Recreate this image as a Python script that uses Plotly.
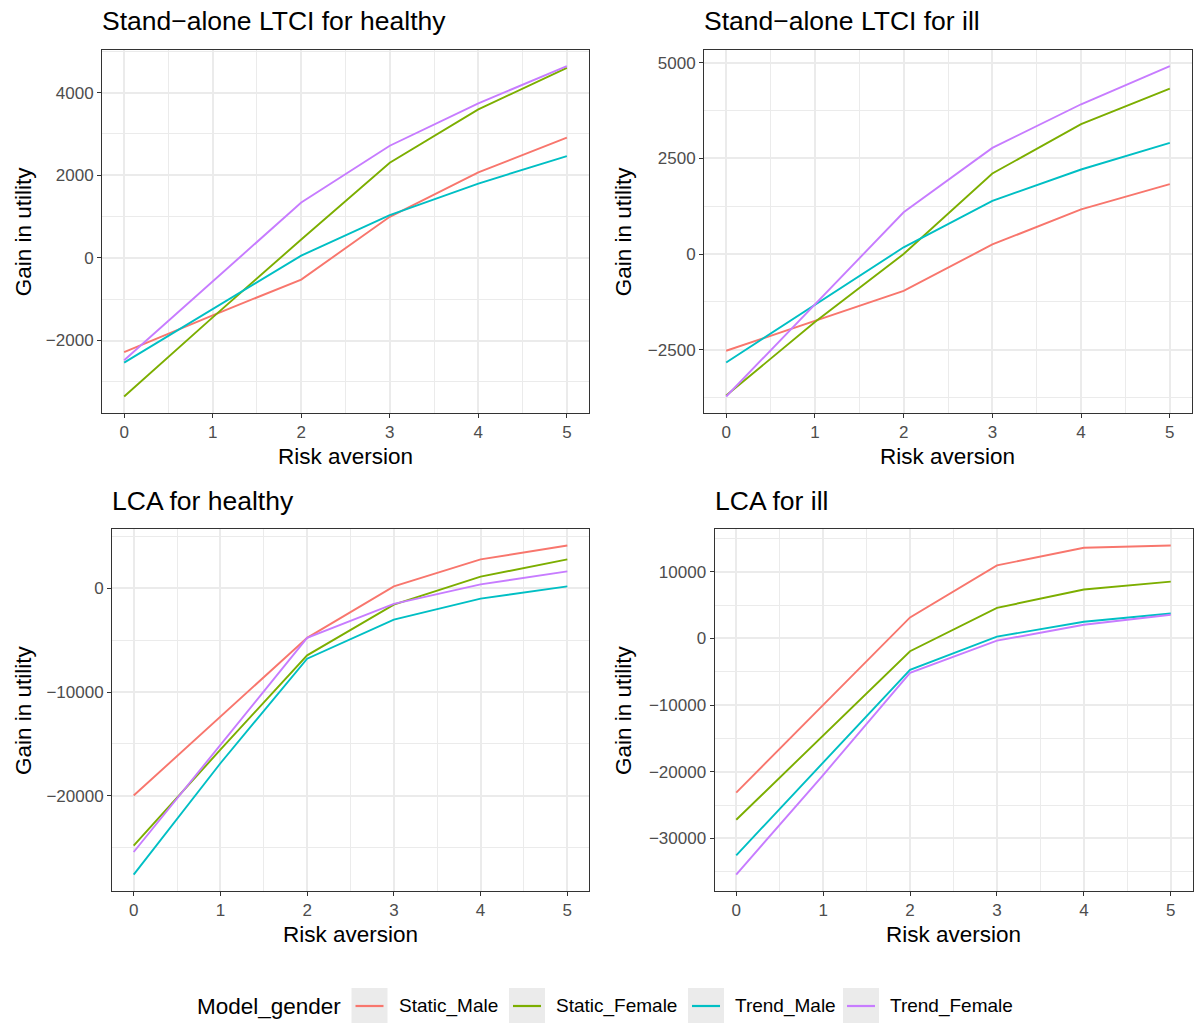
import plotly.graph_objects as go

risk_aversion = [0, 1, 2, 3, 4, 5]
series_names = ["Static_Male", "Static_Female", "Trend_Male", "Trend_Female"]
series_colors = ["#F8766D", "#7CAE00", "#00BFC4", "#C77CFF"]

panel_titles = ["Stand\u2212alone LTCI for healthy", "Stand\u2212alone LTCI for ill",
                "LCA for healthy", "LCA for ill"]

sa_healthy_static_male = [-2280, -1390, -525, 995, 2070, 2910]
sa_healthy_static_female = [-3355, -1440, 445, 2305, 3595, 4600]
sa_healthy_trend_male = [-2535, -1235, 55, 1035, 1800, 2465]
sa_healthy_trend_female = [-2480, -580, 1340, 2715, 3740, 4645]

sa_ill_static_male = [-2530, -1740, -965, 250, 1165, 1825]
sa_ill_static_female = [-3700, -1780, 0, 2105, 3395, 4325]
sa_ill_trend_male = [-2835, -1330, 175, 1390, 2210, 2905]
sa_ill_trend_female = [-3725, -1330, 1090, 2775, 3915, 4915]

lca_healthy_static_male = [-19970, -12350, -4770, 190, 2785, 4130]
lca_healthy_static_female = [-24800, -15550, -6460, -1570, 1120, 2785]
lca_healthy_trend_male = [-27585, -16860, -6780, -3010, -990, 190]
lca_healthy_trend_female = [-25410, -15100, -4770, -1500, 385, 1630]

lca_ill_static_male = [-23130, -10050, 3135, 10945, 13580, 13930]
lca_ill_static_female = [-27215, -14530, -1940, 4575, 7315, 8505]
lca_ill_trend_male = [-32535, -18660, -4725, 250, 2490, 3730]
lca_ill_trend_female = [-35425, -20500, -5175, -350, 2040, 3530]

panels = [
    [sa_healthy_static_male, sa_healthy_static_female, sa_healthy_trend_male, sa_healthy_trend_female],
    [sa_ill_static_male, sa_ill_static_female, sa_ill_trend_male, sa_ill_trend_female],
    [lca_healthy_static_male, lca_healthy_static_female, lca_healthy_trend_male, lca_healthy_trend_female],
    [lca_ill_static_male, lca_ill_static_female, lca_ill_trend_male, lca_ill_trend_female],
]
y_dticks = [2000, 2500, 10000, 10000]

W, H = 1198, 1023
# panel boxes in pixels: (left, right, top, bottom)
boxes = [(102, 589, 49.5, 413), (704, 1192, 49.5, 413), (112, 589, 529, 891), (714.5, 1192.5, 529, 891)]

FONT = "Liberation Sans, Arial, Helvetica, sans-serif"
fig = go.Figure()
annotations = []
shapes = []
layout = {}

for i, (series, box) in enumerate(zip(panels, boxes)):
    n = "" if i == 0 else str(i + 1)
    xa, ya = "x" + n, "y" + n
    for name, color, vals in zip(series_names, series_colors, series):
        fig.add_trace(go.Scatter(x=risk_aversion, y=vals, mode="lines", name=name,
                                 line=dict(color=color, width=1.9), legendgroup=name,
                                 showlegend=False, xaxis=xa, yaxis=ya))
    allv = [v for s in series for v in s]
    lo, hi = min(allv), max(allv)
    pad = 0.05 * (hi - lo)
    l, r, t, b = box
    common = dict(showline=True, linecolor="#333333", linewidth=1, mirror=True,
                  ticks="outside", ticklen=4, tickcolor="#333333", tickwidth=1,
                  showgrid=True, gridcolor="#EBEBEB", gridwidth=1.6, zeroline=False,
                  tickfont=dict(family=FONT, size=17, color="#4D4D4D"),
                  tickformat="d")
    layout["xaxis" + n] = dict(common, domain=[l / W, r / W], range=[-0.25, 5.25], dtick=1, tick0=0,
                               anchor=ya,
                               minor=dict(dtick=0.5, tick0=0, showgrid=True, gridcolor="#EBEBEB", gridwidth=0.8))
    dt = y_dticks[i]
    layout["yaxis" + n] = dict(common, domain=[1 - b / H, 1 - t / H], range=[lo - pad, hi + pad], dtick=dt, tick0=0,
                               anchor=xa,
                               minor=dict(dtick=dt / 2, tick0=0, showgrid=True, gridcolor="#EBEBEB", gridwidth=0.8))
    # panel title
    annotations.append(dict(text=panel_titles[i], xref="paper", yref="paper", x=(l - 2) / W, y=1 - (t - 28) / H,
                            xanchor="left", yanchor="middle", showarrow=False,
                            font=dict(family=FONT, size=26.5, color="black")))
    # x title
    annotations.append(dict(text="Risk aversion", xref="paper", yref="paper", x=(l + r) / 2 / W,
                            y=1 - (b + 43) / H, xanchor="center", yanchor="middle", showarrow=False,
                            font=dict(family=FONT, size=22.5, color="black")))
    # y title
    annotations.append(dict(text="Gain in utility", xref="paper", yref="paper",
                            x=(23 if i % 2 == 0 else 623) / W, y=1 - (t + b) / 2 / H,
                            xanchor="center", yanchor="middle", textangle=-90, showarrow=False,
                            font=dict(family=FONT, size=22.5, color="black")))

# custom ggplot-style legend (grey key boxes)
LEG_Y = 1006
annotations.append(dict(text="Model_gender", xref="paper", yref="paper", x=195 / W, y=1 - LEG_Y / H,
                        xanchor="left", yanchor="middle", showarrow=False,
                        font=dict(family=FONT, size=22.5, color="black")))
key_left = [351.5, 509, 688, 843]
for name, color, kl in zip(series_names, series_colors, key_left):
    shapes.append(dict(type="rect", xref="paper", yref="paper", x0=kl / W, x1=(kl + 36) / W,
                       y0=1 - 1023 / H, y1=1 - 988 / H, fillcolor="#EBEBEB", line=dict(width=0), layer="below"))
    shapes.append(dict(type="line", xref="paper", yref="paper", x0=(kl + 4) / W, x1=(kl + 32) / W,
                       y0=1 - LEG_Y / H, y1=1 - LEG_Y / H, line=dict(color=color, width=2.2)))
    annotations.append(dict(text=name, xref="paper", yref="paper", x=(kl + 45) / W, y=1 - LEG_Y / H,
                            xanchor="left", yanchor="middle", showarrow=False,
                            font=dict(family=FONT, size=19, color="black")))

fig.update_layout(
    width=W, height=H, margin=dict(l=0, r=0, t=0, b=0),
    paper_bgcolor="white", plot_bgcolor="white",
    annotations=annotations, shapes=shapes, showlegend=False,
    **layout,
)

fig.write_html("out.html")
